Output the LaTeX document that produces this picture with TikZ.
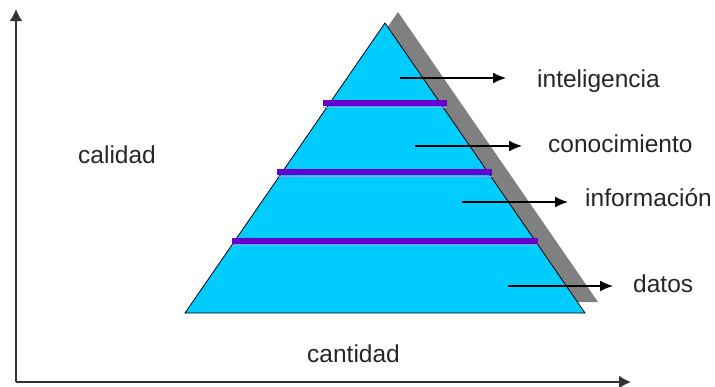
\documentclass[tikz,border=0pt]{standalone}
\usepackage{fontspec}
\setmainfont{Liberation Sans}
\usetikzlibrary{arrows.meta,positioning}
\definecolor{pyrfill}{HTML}{00CCFF}
\definecolor{pyrshadow}{HTML}{808080}
\definecolor{pyrband}{HTML}{6600CC}
\definecolor{pyrbandlight}{HTML}{9999FF}
\tikzstyle{arrow} = [-{Latex[length=13pt,width=11pt]}, line width=1.4pt, black]
\tikzstyle{axis} = [-{Latex[length=12pt,width=13pt]}, line width=1.8pt, black!80]
\tikzstyle{lbl} = [font=\fontsize{24.5}{28}\selectfont, text=black!85, inner sep=0pt]

\begin{document}
\begin{tikzpicture}[x=1pt,y=-1pt]
\useasboundingbox (0,0) rectangle (715,386);
% axes
\coordinate (origin) at (16,382);
\coordinate (ytip) at (16,9);
\coordinate (xtip) at (631,382);
\draw[axis] (origin) -- (ytip);
\draw[axis] (origin) -- (xtip);

% pyramid and its shadow
\coordinate (apex) at (385,23);
\coordinate (bl) at (185,313);
\coordinate (br) at (585,313);
\fill[pyrshadow] ([shift={(13,-11)}]apex) -- ([shift={(13,-11)}]bl) -- ([shift={(13,-11)}]br) -- cycle;
\filldraw[fill=pyrfill, draw=black, line width=0.8pt] (apex) -- (bl) -- (br) -- cycle;
\foreach \y/\xl/\xr in {100/323/447,169/277/492,238/232/538}{
  \fill[pyrband] (\xl,\y) rectangle (\xr,\y+6);
  \draw[pyrbandlight, line width=1pt] (\xl,\y+7.5) -- (\xr,\y+7.5);
}

% levels
\foreach \name/\sx/\ay/\tx/\by/\gap/\txt in {intel/400/78/537/87/31/inteligencia,conoc/415/146/548/152/26/conocimiento,infor/462/202/585/206/17/información,datos/508/286/633/292/20/datos}{
  \node[lbl, anchor=base west] (\name) at (\tx,\by) {\txt};
  \coordinate (\name-s) at (\sx,\ay);
  \draw[arrow, shorten >=\gap pt] (\name-s) -- (\name-s -| \name.west);
}
\node[lbl, anchor=base west] (quality) at (78,163) {calidad};
\node[lbl, anchor=base west] (quantity) at (307,362) {cantidad};
\end{tikzpicture}
\end{document}
